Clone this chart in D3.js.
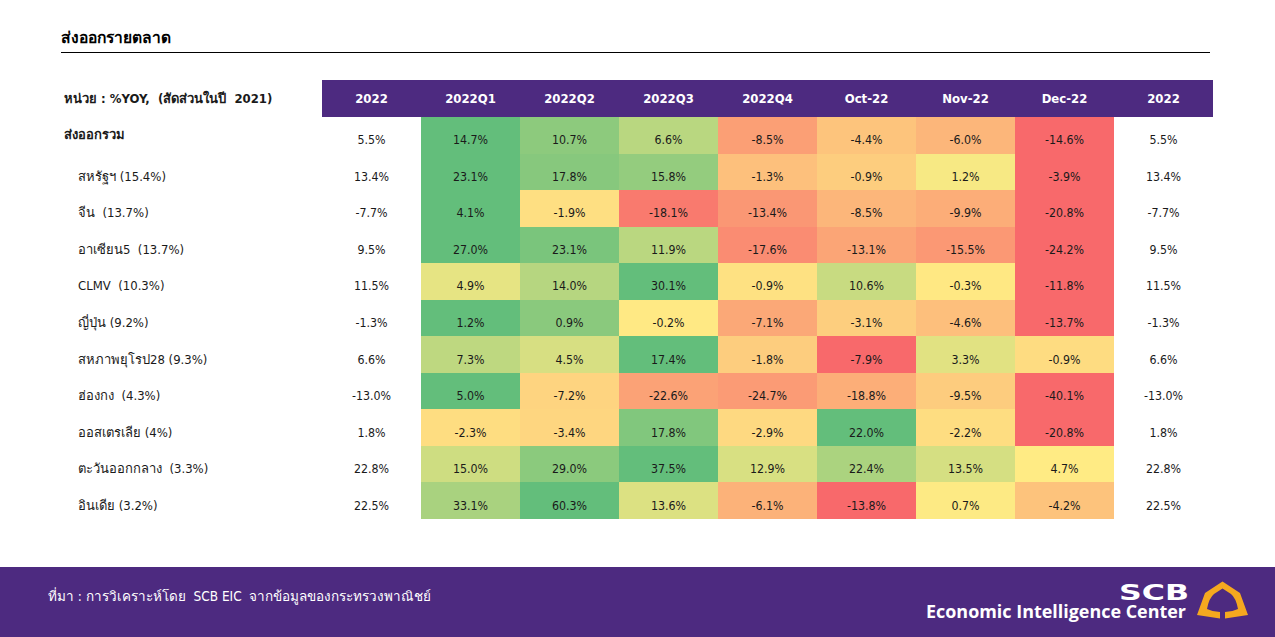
<!DOCTYPE html>
<html>
<head>
<meta charset="utf-8">
<script src="https://cdn.jsdelivr.net/npm/d3@7"></script>
<style>
    html, body { margin: 0; padding: 0; background: #fff; }
    svg { display: block; }
    text { font-family: "DejaVu Sans Condensed", "DejaVu Sans", "Noto Sans", sans-serif; white-space: pre; }
</style>
</head>
<body>
<svg id="chart" width="1275" height="637"></svg>
<script>
var title = "ส่งออกรายตลาด";
var unitLabel = "หน่วย : %YOY,  (สัดส่วนในปี  2021)";
var source = "ที่มา : การวิเคราะห์โดย  SCB EIC  จากข้อมูลของกระทรวงพาณิชย์";

var columns = ["2022", "2022Q1", "2022Q2", "2022Q3", "2022Q4", "Oct-22", "Nov-22", "Dec-22", "2022 "];
var heatColumns = ["2022Q1", "2022Q2", "2022Q3", "2022Q4", "Oct-22", "Nov-22", "Dec-22"];

var markets = ["ส่งออกรวม", "สหรัฐฯ (15.4%)", "จีน  (13.7%)", "อาเซียน5  (13.7%)", "CLMV  (10.3%)",
    "ญี่ปุ่น (9.2%)", "สหภาพยุโรป28 (9.3%)", "ฮ่องกง  (4.3%)", "ออสเตรเลีย (4%)",
    "ตะวันออกกลาง  (3.3%)", "อินเดีย (3.2%)"];

var yearValues = [5.5, 13.4, -7.7, 9.5, 11.5, -1.3, 6.6, -13.0, 1.8, 22.8, 22.5];

var total = [14.7, 10.7, 6.6, -8.5, -4.4, -6.0, -14.6];
var usa = [23.1, 17.8, 15.8, -1.3, -0.9, 1.2, -3.9];
var china = [4.1, -1.9, -18.1, -13.4, -8.5, -9.9, -20.8];
var asean5 = [27.0, 23.1, 11.9, -17.6, -13.1, -15.5, -24.2];
var clmv = [4.9, 14.0, 30.1, -0.9, 10.6, -0.3, -11.8];
var japan = [1.2, 0.9, -0.2, -7.1, -3.1, -4.6, -13.7];
var eu28 = [7.3, 4.5, 17.4, -1.8, -7.9, 3.3, -0.9];
var hongKong = [5.0, -7.2, -22.6, -24.7, -18.8, -9.5, -40.1];
var australia = [-2.3, -3.4, 17.8, -2.9, 22.0, -2.2, -20.8];
var middleEast = [15.0, 29.0, 37.5, 12.9, 22.4, 13.5, 4.7];
var india = [33.1, 60.3, 13.6, -6.1, -13.8, 0.7, -4.2];

var rows = [total, usa, china, asean5, clmv, japan, eu28, hongKong, australia, middleEast, india];

var purple = "#4d2a80",
    textDark = "#1a1a1a";

var svg = d3.select("#chart");

var x = d3.scaleBand().domain(columns).range([322, 1213]);
var y = d3.scaleBand().domain(markets).range([117, 519]);

function pct(v) {
    return v.toFixed(1) + "%";
}

// every row has its own red-yellow-green scale, yellow sits at zero
// (or at the row minimum when the whole row is positive)
function rowColor(values) {
    var lo = d3.min(values);
    return d3.scaleLinear()
        .domain([lo, Math.max(lo, 0), d3.max(values)])
        .range(["#f8696b", "#ffeb84", "#63be7b"]);
}

// title
svg.append("text")
    .attr("x", 61).attr("y", 43)
    .attr("font-size", 15.6).attr("font-weight", "bold").attr("fill", "#000")
    .text(title);
svg.append("line")
    .attr("x1", 61).attr("x2", 1210).attr("y1", 52.5).attr("y2", 52.5)
    .attr("stroke", "#000");

// header
svg.append("rect")
    .attr("x", x.range()[0]).attr("y", 80)
    .attr("width", x.range()[1] - x.range()[0]).attr("height", y.range()[0] - 80)
    .attr("fill", purple);
svg.selectAll("text.head").data(columns).enter().append("text")
    .attr("class", "head")
    .attr("x", d => x(d) + x.bandwidth() / 2).attr("y", 103)
    .attr("text-anchor", "middle")
    .attr("font-size", 13).attr("font-weight", "bold").attr("fill", "#fff")
    .text(d => d.trim());
svg.append("text")
    .attr("x", 64).attr("y", 103)
    .attr("font-size", 13).attr("font-weight", "bold").attr("fill", textDark)
    .text(unitLabel);

// row labels
svg.selectAll("text.market").data(markets).enter().append("text")
    .attr("class", "market")
    .attr("x", (d, i) => i === 0 ? 64 : 78)
    .attr("y", (d, i) => i === 0 ? y(d) + 22 : y(d) + y.bandwidth() / 2 + 9)
    .attr("font-size", 13)
    .attr("font-weight", (d, i) => i === 0 ? "bold" : "normal")
    .attr("fill", textDark)
    .text(d => d);

// heat cells
rows.forEach(function (values, r) {
    var color = rowColor(values),
        g = svg.append("g");

    g.selectAll("rect").data(values).enter().append("rect")
        .attr("x", (d, i) => x(heatColumns[i]))
        .attr("y", y(markets[r]))
        .attr("width", x.bandwidth())
        .attr("height", y.bandwidth())
        .attr("shape-rendering", "crispEdges")
        .attr("fill", d => color(d));

    g.selectAll("text").data(values).enter().append("text")
        .attr("x", (d, i) => x(heatColumns[i]) + x.bandwidth() / 2)
        .attr("y", y(markets[r]) + y.bandwidth() / 2 + 9)
        .attr("text-anchor", "middle")
        .attr("font-size", 12.3).attr("fill", textDark)
        .text(pct);
});

// first and last column repeat the full year
["2022", "2022 "].forEach(function (col) {
    svg.append("g").selectAll("text").data(yearValues).enter().append("text")
        .attr("x", x(col) + x.bandwidth() / 2)
        .attr("y", (d, i) => y(markets[i]) + y.bandwidth() / 2 + 9)
        .attr("text-anchor", "middle")
        .attr("font-size", 12.3).attr("fill", textDark)
        .text(pct);
});

// footer
svg.append("rect")
    .attr("x", 0).attr("y", 567).attr("width", 1275).attr("height", 70)
    .attr("fill", purple);
svg.append("text")
    .attr("x", 48).attr("y", 601)
    .attr("font-size", 13.5).attr("fill", "#fff")
    .text(source);
svg.append("text")
    .attr("x", 1119).attr("y", 600)
    .attr("textLength", 70).attr("lengthAdjust", "spacingAndGlyphs")
    .style("font-family", "'DejaVu Sans', sans-serif")
    .attr("font-size", 22).attr("font-weight", "bold").attr("fill", "#fff")
    .text("SCB");
svg.append("text")
    .attr("x", 926).attr("y", 618)
    .attr("textLength", 260).attr("lengthAdjust", "spacingAndGlyphs")
    .style("font-family", "'Open Sans', sans-serif")
    .attr("font-size", 17).attr("font-weight", "bold").attr("fill", "#fff")
    .text("Economic Intelligence Center");

// logo
svg.append("path")
    .attr("d", "M1222.5 581.5 L1240 593 L1248 615 L1225 618.5 L1225 612 Q1232 612 1238 609 Q1236 598 1231 594 L1222.5 588.5 L1214 594 Q1209 598 1207 609 Q1213 612 1220 612 L1220 618.5 L1197 615 L1205 593 Z")
    .attr("fill", "#f5a81f");
</script>
</body>
</html>
